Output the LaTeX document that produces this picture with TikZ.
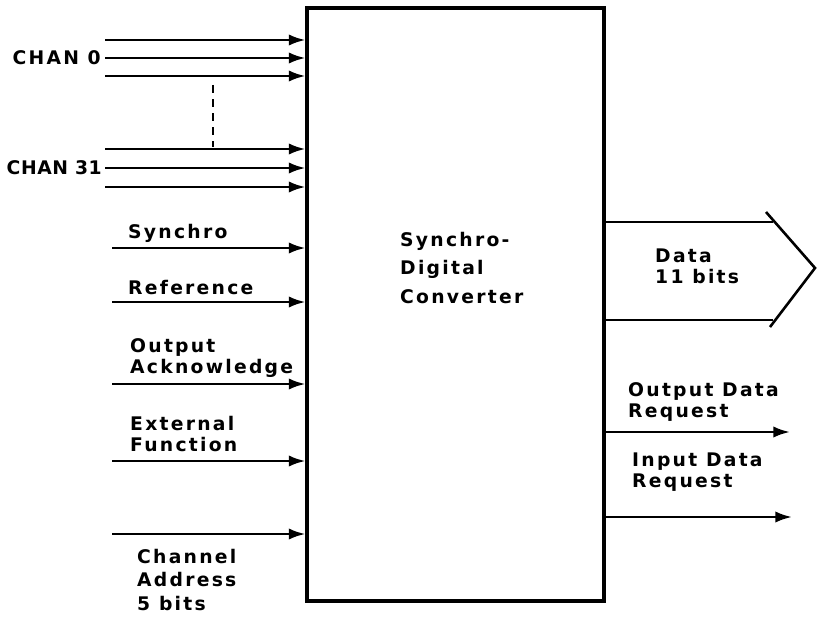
\documentclass[tikz,border=0pt]{standalone}
\usepackage{fontspec}
\setmainfont{DejaVu Sans}[LetterSpace=12, BoldFont={DejaVu Sans Bold}]
\usetikzlibrary{arrows,arrows.meta,positioning}

\begin{document}
\begin{tikzpicture}[x=0.03cm, y=-0.03cm,
    sig/.style={line width=2.2pt},
    lbl/.style={inner sep=0pt, anchor=west, align=left, font=\fontsize{16}{18}\selectfont\bfseries},
    >={Latex[length=5mm,width=3.4mm]}]
            \useasboundingbox (0,0) rectangle (819,622);

            % converter block
            \node[draw, line width=2.6pt, inner sep=0pt, minimum width=8.91cm, minimum height=17.79cm] (sdc) at (455.5,304.5) {};
            \node[lbl] (sdc_name) at (400,268) {Synchro-\\[6pt]Digital\\[6pt]Converter};

            % channel inputs
            \foreach \y/\n in {40/c0a, 58/c0b, 76/c0c, 149/c31a, 168/c31b, 187/c31c} {
                \coordinate (\n) at (105,\y);
                \draw[sig,->] (\n) -- (\n -| sdc.west);
            }
            \node[lbl, anchor=east] (chan0) at (101,58) {CHAN 0};
            \node[lbl, anchor=east] (chan31) at (102,168) {\addfontfeature{LetterSpace=3}CHAN 31};
            \coordinate (dot_top) at (213,85);
            \coordinate (dot_bot) at (213,147);
            \draw[sig, dash pattern=on 7pt off 5pt] (dot_top) -- (dot_bot);

            % control inputs
            \foreach \y/\n in {248/syn, 302/ref, 384/ack, 461/ext, 534/adr} {
                \coordinate (\n_in) at (112,\y);
                \draw[sig,->] (\n_in) -- (\n_in -| sdc.west);
            }
            \node[lbl] (syn_lbl) at (128,233) {Synchro};
            \node[lbl] (ref_lbl) at (128,288) {Reference};
            \node[lbl] (ack_lbl) at (130,358) {Output\\Acknowledge};
            \node[lbl] (ext_lbl) at (130,434) {External\\Function};
            \node[lbl] (adr_lbl) at (137,580) {Channel\\[2pt]Address\\[2pt]5 bits};

            % data bus
            \coordinate (bus_top) at (773,222);
            \coordinate (bus_bot) at (773,320);
            \coordinate (chev_a) at (766,212);
            \coordinate (chev_tip) at (815,268);
            \coordinate (chev_b) at (770,327);
            \draw[sig] (bus_top -| sdc.east) -- (bus_top);
            \draw[sig] (bus_bot -| sdc.east) -- (bus_bot);
            \draw[sig] (chev_a) -- (chev_tip) -- (chev_b);
            \node[lbl] (bus_lbl) at (655,266) {Data\\11 bits};

            % request outputs
            \coordinate (odr_out) at (790,432);
            \coordinate (idr_out) at (792,517);
            \draw[sig,->] (odr_out -| sdc.east) -- (odr_out);
            \draw[sig,->] (idr_out -| sdc.east) -- (idr_out);
            \node[lbl] (odr_lbl) at (628,402) {Output Data\\Request};
            \node[lbl] (idr_lbl) at (632,472) {Input Data\\Request};
      \end{tikzpicture}
\end{document}
